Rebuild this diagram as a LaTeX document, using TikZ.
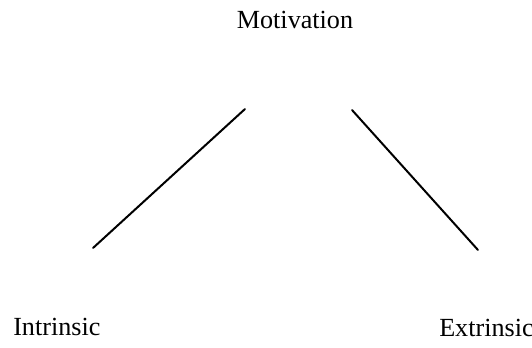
\documentclass[tikz,border=0pt]{standalone}
\usepackage{fontspec}
\setmainfont{Liberation Serif}
\begin{document}
\begin{tikzpicture}[x=0.75pt,y=-0.75pt,
  lbl/.style={inner sep=0pt,font=\fontsize{19.6}{23}\selectfont},
  link/.style={line width=1.5pt,line cap=round}]
\useasboundingbox (0,0) rectangle (532,347);
\node[lbl,anchor=base] (mot) at (295,28) {Motivation};
\node[lbl,anchor=base west] (intr) at (13,335) {Intrinsic};
\node[lbl,anchor=base west] (extr) at (439,336) {Extrinsic};
\coordinate (l1) at (245,109);
\coordinate (l2) at (93,248);
\coordinate (r1) at (352,110);
\coordinate (r2) at (478,250);
\draw[link] (l1) -- (l2);
\draw[link] (r1) -- (r2);
\end{tikzpicture}
\end{document}
